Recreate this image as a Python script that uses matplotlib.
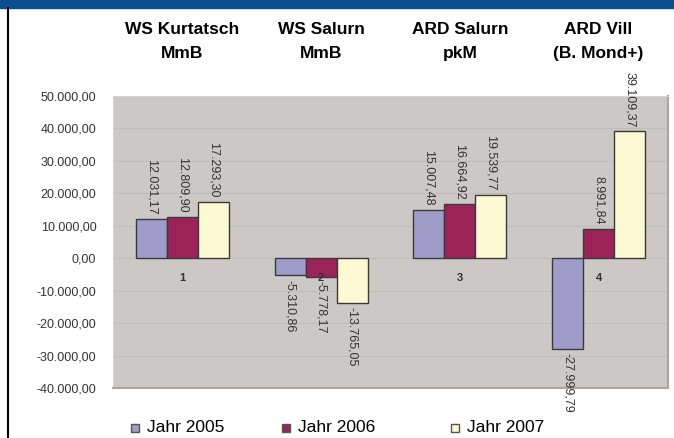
import matplotlib
matplotlib.use("Agg")
import matplotlib.pyplot as plt
from matplotlib.patches import Rectangle
import numpy as np

plt.rcParams['font.family'] = ['Liberation Sans', 'DejaVu Sans']

# Data
categories = ["WS Kurtatsch\nMmB", "WS Salurn\nMmB", "ARD Salurn\npkM", "ARD Vill\n(B. Mond+)"]
cat_numbers = ["1", "2", "3", "4"]
series_names = ["Jahr 2005", "Jahr 2006", "Jahr 2007"]
jahr_2005 = [12031.17, -5310.86, 15007.48, -27999.79]
jahr_2006 = [12809.90, -5778.17, 16664.92, 8991.84]
jahr_2007 = [17293.30, -13765.05, 19539.77, 39109.37]
y_ticks = [-40000, -30000, -20000, -10000, 0, 10000, 20000, 30000, 40000, 50000]

colors = ['#a09cc9', '#9b2358', '#fdf9d2']


def de_fmt(v):
    s = f"{v:,.2f}"
    return s.replace(",", "X").replace(".", ",").replace("X", ".")


fig = plt.figure(figsize=(6.74, 4.38), dpi=100)

# header band and left frame line
fig.add_artist(Rectangle((0, 1 - 8 / 438), 1, 8 / 438, transform=fig.transFigure,
                         color='#0c4f91', zorder=0))
fig.add_artist(plt.Line2D([7.5 / 674, 7.5 / 674], [0, 1 - 8 / 438],
                          transform=fig.transFigure, color='black', lw=1.5))

ax = fig.add_axes([113 / 674, 1 - 388 / 438, 555 / 674, 292 / 438])
ax.set_facecolor('#ccc8c5')
ax.set_ylim(-40000, 50000)
ax.set_xlim(-0.5, 3.5)
ax.set_yticks(y_ticks)
ax.set_yticklabels([de_fmt(t) for t in y_ticks], fontsize=9, color='#333333')
ax.set_xticks([])
ax.tick_params(axis='y', length=0, pad=12)
ax.grid(axis='y', color='#c0bcb8', lw=0.8)
ax.set_axisbelow(True)
for side in ['top', 'left']:
    ax.spines[side].set_color('#d8d5d2')
for side in ['right', 'bottom']:
    ax.spines[side].set_color('#a9a5a1')
    ax.spines[side].set_linewidth(1.5)

x = np.arange(len(categories))
w = 0.223
all_series = [jahr_2005, jahr_2006, jahr_2007]
for i, vals in enumerate(all_series):
    pos = x + (i - 1) * w
    ax.bar(pos, vals, width=w, color=colors[i], edgecolor='#3a3a3a', lw=1, zorder=3)
    for px, v in zip(pos, vals):
        if v >= 0:
            ax.annotate(de_fmt(v), (px, v), xytext=(0, 3), textcoords='offset points',
                        rotation=270, ha='center', va='bottom', fontsize=9,
                        color='#333333', annotation_clip=False, zorder=4)
        else:
            ax.annotate(de_fmt(v), (px, v), xytext=(0, -3), textcoords='offset points',
                        rotation=270, ha='center', va='top', fontsize=9,
                        color='#333333', annotation_clip=False, zorder=4)

# category numbers at the zero line
for xi, lab in zip(x, cat_numbers):
    ax.annotate(lab, (xi, 0), xytext=(0, -14), textcoords='offset points',
                ha='center', va='center', fontsize=8, fontweight='bold',
                color='#333333', zorder=5)

# category titles above the plot
for xi, lab in zip(x, categories):
    ax.annotate(lab, (xi, 50000), xytext=(0, 39), textcoords='offset points',
                ha='center', va='center', fontsize=12.5, fontweight='bold',
                color='black', linespacing=1.75, annotation_clip=False)

# legend
leg_x = [131, 282, 451]
for i, name in enumerate(series_names):
    fig.add_artist(Rectangle((leg_x[i] / 674, 1 - 432 / 438), 8 / 674, 8 / 438,
                             transform=fig.transFigure, facecolor=colors[i],
                             edgecolor='#555555', lw=1))
    fig.text((leg_x[i] + 16) / 674, 1 - 428 / 438, name, fontsize=12.5,
             va='center', ha='left', color='black')

fig.savefig("out.png", dpi=100)
